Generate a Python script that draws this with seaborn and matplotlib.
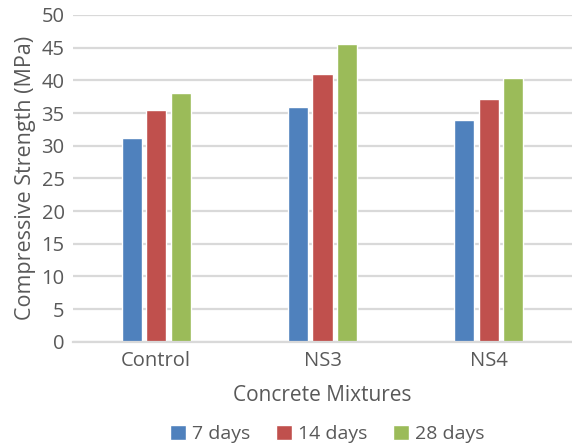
import matplotlib
matplotlib.use("Agg")
import matplotlib.pyplot as plt
import seaborn as sns
import pandas as pd

mixtures = ["Control", "NS3", "NS4"]
ages = ["7 days", "14 days", "28 days"]
strength_7 = [31.2, 35.9, 33.9]
strength_14 = [35.4, 41.0, 37.1]
strength_28 = [38.0, 45.6, 40.3]
y_ticks = [0, 5, 10, 15, 20, 25, 30, 35, 40, 45, 50]

colors = ["#4F81BD", "#C0504D", "#9BBB59"]
text_color = "#595959"
grid_color = "#D9D9D9"

df = pd.DataFrame({
    "Mixture": mixtures * 3,
    "Age": [a for a in ages for _ in mixtures],
    "Strength": strength_7 + strength_14 + strength_28,
})

sns.set_theme(style="white")
plt.rcParams["font.family"] = ["Open Sans", "DejaVu Sans"]

fig = plt.figure(figsize=(5.72, 4.48), dpi=100)
ax = fig.add_axes([73 / 572, 1 - 341.7 / 448, 1 - 73 / 572, (341.7 - 15) / 448])

sns.barplot(data=df, x="Mixture", y="Strength", hue="Age", order=mixtures,
            hue_order=ages, palette=colors, width=0.44, gap=0.18,
            saturation=1, ax=ax, legend=True)

ax.set_ylim(0, 50)
ax.set_xlim(-0.5, 2.5)
ax.set_yticks(y_ticks)
ax.yaxis.grid(True, color=grid_color, linewidth=1.6)
ax.set_axisbelow(True)
for side in ["left", "right", "top"]:
    ax.spines[side].set_visible(False)
ax.spines["bottom"].set_color(grid_color)
ax.spines["bottom"].set_linewidth(1.6)
ax.tick_params(axis="both", length=0, colors=text_color, labelsize=14.5, pad=6)
ax.tick_params(axis="x", pad=7)

ax.set_ylabel("Compressive Strength (MPa)", color=text_color, fontsize=15.5, labelpad=4)
ax.set_xlabel("Concrete Mixtures", color=text_color, fontsize=15, labelpad=10)

handles, labels = ax.get_legend_handles_labels()
ax.legend_.remove()
leg = fig.legend(handles, labels, loc="center", bbox_to_anchor=(0.572, 1 - 434 / 448),
                 ncol=3, frameon=False, fontsize=14, handlelength=0.85,
                 handleheight=0.85, handletextpad=0.3, columnspacing=1.3)
for t in leg.get_texts():
    t.set_color(text_color)

fig.savefig("out.png", dpi=100)
